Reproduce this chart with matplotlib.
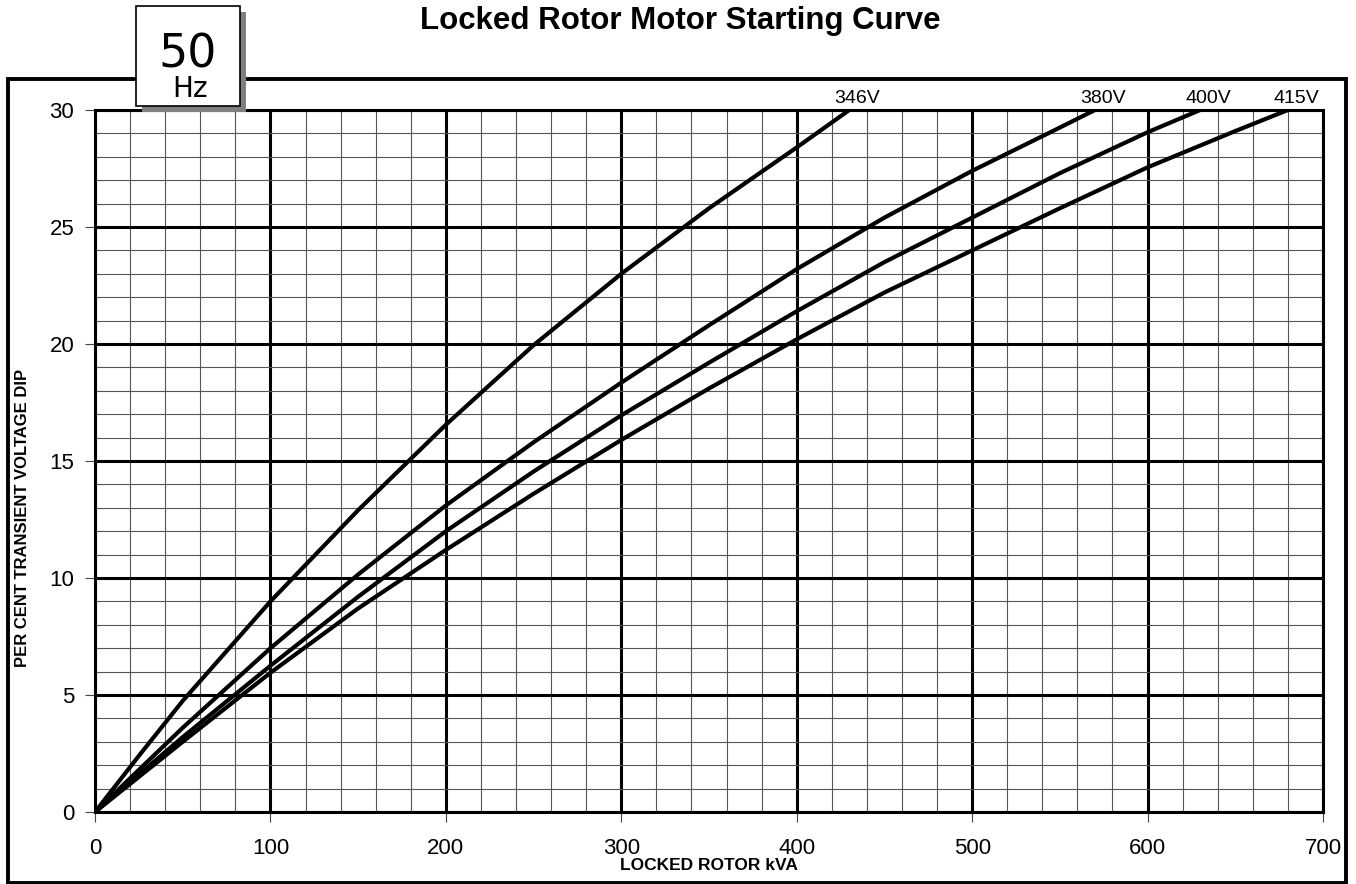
import matplotlib
matplotlib.use("Agg")
import matplotlib.pyplot as plt
from matplotlib.patches import Rectangle
from matplotlib.ticker import MultipleLocator

plt.rcParams['font.family'] = ['Liberation Sans', 'DejaVu Sans']

# values
kva_346 = [0, 25, 50, 100, 150, 200, 250, 300, 350, 400, 430]
dip_346 = [0, 2.4, 4.75, 9.0, 12.9, 16.55, 19.95, 23.0, 25.8, 28.4, 30]

kva_380 = [0, 25, 50, 100, 150, 200, 250, 300, 350, 400, 450, 500, 550, 570]
dip_380 = [0, 1.8, 3.6, 7.0, 10.15, 13.1, 15.8, 18.35, 20.8, 23.2, 25.4, 27.4, 29.25, 30]

kva_400 = [0, 25, 50, 100, 150, 200, 250, 300, 350, 400, 450, 500, 550, 600, 630]
dip_400 = [0, 1.6, 3.2, 6.25, 9.2, 12.0, 14.55, 16.95, 19.2, 21.4, 23.5, 25.4, 27.3, 29.05, 30]

kva_415 = [0, 25, 50, 100, 150, 200, 250, 300, 350, 400, 450, 500, 550, 600, 650, 680]
dip_415 = [0, 1.5, 3.0, 5.95, 8.7, 11.2, 13.6, 15.9, 18.1, 20.2, 22.2, 24.0, 25.8, 27.55, 29.1, 30]

curves = [("346V", kva_346, dip_346), ("380V", kva_380, dip_380),
          ("400V", kva_400, dip_400), ("415V", kva_415, dip_415)]

W, H = 1356, 884


def fx(px):
    return px / W


def fy(py):
    return 1 - py / H


fig = plt.figure(figsize=(W / 100, H / 100), dpi=100)
ax = fig.add_axes([fx(95), fy(812), fx(1323) - fx(95), fy(110) - fy(812)])

ax.set_xlim(0, 700)
ax.set_ylim(0, 30)
ax.xaxis.set_major_locator(MultipleLocator(100))
ax.yaxis.set_major_locator(MultipleLocator(5))
ax.xaxis.set_minor_locator(MultipleLocator(20))
ax.yaxis.set_minor_locator(MultipleLocator(1))
ax.set_axisbelow(True)
ax.grid(True, which='major', color='black', lw=2.2)
ax.grid(True, which='minor', color='#555555', lw=0.8)
ax.tick_params(which='major', direction='out', length=7, width=0.8,
               color='#444444', labelsize=16)
ax.tick_params(axis='y', which='major', pad=8)
ax.tick_params(axis='x', which='major', pad=12)
ax.tick_params(which='minor', length=0)
for sp in ax.spines.values():
    sp.set_linewidth(2.2)

for name, xs, ys in curves:
    ax.plot(xs, ys, color='black', lw=3.0, solid_capstyle='butt', zorder=3)
    ax.annotate(name, xy=(xs[-1], 30), xytext=(8, 3), textcoords='offset pixels',
                ha='center', va='bottom', fontsize=14, annotation_clip=False)

fig.text(fx(680), fy(21), "Locked Rotor Motor Starting Curve", ha='center', va='center',
         fontsize=22.5, fontweight='bold')
fig.text(fx(709), fy(866), "LOCKED ROTOR kVA", ha='center', va='center',
         fontsize=12.5, fontweight='bold')
fig.text(fx(23), fy(518), "PER CENT TRANSIENT VOLTAGE DIP", ha='center', va='center',
         rotation=90, fontsize=12, fontweight='bold')

# outer frame
fig.patches.append(Rectangle((fx(8), fy(883)), fx(1346) - fx(8), fy(79) - fy(883),
                             transform=fig.transFigure, fill=False, ec='black', lw=2.8,
                             zorder=5))

# 50 Hz box with shadow
fig.patches.append(Rectangle((fx(142), fy(112)), fx(104), fy(6) - fy(106),
                             transform=fig.transFigure, fc='#808080', ec='none', zorder=6))
fig.patches.append(Rectangle((fx(136), fy(106)), fx(104), fy(6) - fy(106),
                             transform=fig.transFigure, fc='white', ec='black', lw=1.2,
                             zorder=7))
fig.text(fx(188), fy(55), "50", ha='center', va='center', fontsize=33,
         family='DejaVu Sans', zorder=8)
fig.text(fx(190), fy(89), "Hz", ha='center', va='center', fontsize=20,
         family='DejaVu Sans', zorder=8)

fig.savefig("out.png", dpi=100)
